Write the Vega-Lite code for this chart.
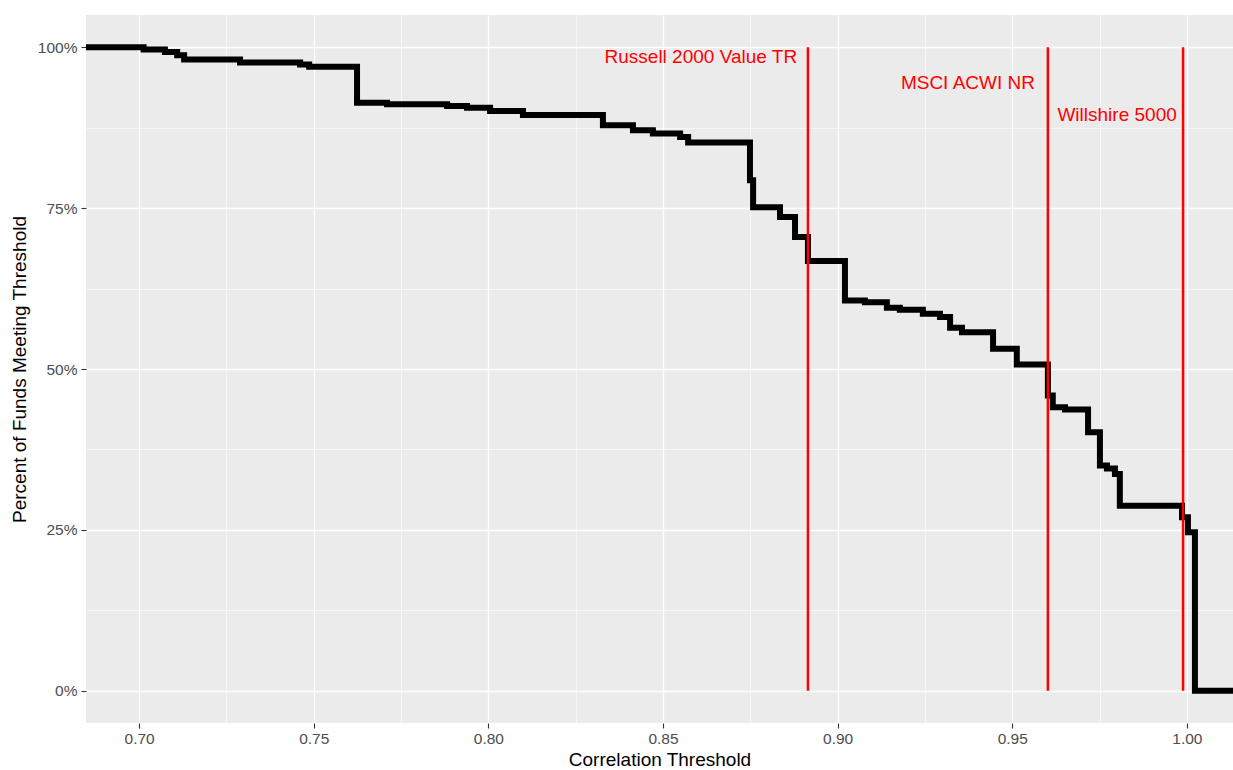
{
  "$schema": "https://vega.github.io/schema/vega-lite/v6.json",
  "width": 1147,
  "height": 708,
  "autosize": "none",
  "padding": {"left": 86, "top": 15, "right": 0, "bottom": 47},
  "background": "white",
  "config": {
    "view": {"fill": "#EBEBEB", "stroke": null},
    "font": "Liberation Sans",
    "axis": {
      "domain": false,
      "gridColor": "white",
      "tickColor": "#333333",
      "tickSize": 5,
      "tickWidth": 1.1,
      "labelColor": "#4D4D4D",
      "labelFont": "Liberation Sans",
      "labelFontSize": 15.5,
      "titleFont": "Liberation Sans",
      "titleFontSize": 19,
      "titleFontWeight": "normal",
      "titleColor": "black"
    }
  },
  "resolve": {"axis": {"x": "independent", "y": "independent"}},
  "datasets": {
    "curve": [
      {"threshold": 0.68, "pct": 1.0},
      {"threshold": 0.7013, "pct": 0.9964},
      {"threshold": 0.7074, "pct": 0.9927},
      {"threshold": 0.7109, "pct": 0.9876},
      {"threshold": 0.7129, "pct": 0.9809},
      {"threshold": 0.7289, "pct": 0.9762},
      {"threshold": 0.7461, "pct": 0.9731},
      {"threshold": 0.7487, "pct": 0.9697},
      {"threshold": 0.7624, "pct": 0.9137},
      {"threshold": 0.771, "pct": 0.9114},
      {"threshold": 0.7882, "pct": 0.9087},
      {"threshold": 0.7939, "pct": 0.9059},
      {"threshold": 0.8005, "pct": 0.9009},
      {"threshold": 0.8099, "pct": 0.8945},
      {"threshold": 0.8328, "pct": 0.8787},
      {"threshold": 0.8414, "pct": 0.8709},
      {"threshold": 0.8471, "pct": 0.8658},
      {"threshold": 0.8549, "pct": 0.8605},
      {"threshold": 0.8572, "pct": 0.8518},
      {"threshold": 0.8749, "pct": 0.7932},
      {"threshold": 0.8758, "pct": 0.7512},
      {"threshold": 0.8835, "pct": 0.7361},
      {"threshold": 0.8878, "pct": 0.705},
      {"threshold": 0.8915, "pct": 0.6677},
      {"threshold": 0.9021, "pct": 0.6065},
      {"threshold": 0.9078, "pct": 0.6039},
      {"threshold": 0.9141, "pct": 0.5952},
      {"threshold": 0.9178, "pct": 0.5921},
      {"threshold": 0.9244, "pct": 0.5858},
      {"threshold": 0.9293, "pct": 0.5806},
      {"threshold": 0.9322, "pct": 0.5641},
      {"threshold": 0.9356, "pct": 0.5572},
      {"threshold": 0.9445, "pct": 0.5314},
      {"threshold": 0.9513, "pct": 0.507},
      {"threshold": 0.9602, "pct": 0.4588},
      {"threshold": 0.9616, "pct": 0.4406},
      {"threshold": 0.9651, "pct": 0.437},
      {"threshold": 0.9717, "pct": 0.4017},
      {"threshold": 0.9751, "pct": 0.3499},
      {"threshold": 0.9771, "pct": 0.3453},
      {"threshold": 0.9794, "pct": 0.337},
      {"threshold": 0.9808, "pct": 0.2877},
      {"threshold": 0.9986, "pct": 0.2695},
      {"threshold": 1.0003, "pct": 0.2462},
      {"threshold": 1.0023, "pct": 0.0},
      {"threshold": 1.02, "pct": 0.0}
    ],
    "benchmarks": [
      {"name": "Russell 2000 Value TR", "corr": 0.8915, "labelX": 0.8884, "labelY": 0.985},
      {"name": "MSCI ACWI NR", "corr": 0.9602, "labelX": 0.9565, "labelY": 0.945},
      {"name": "Willshire 5000", "corr": 0.9989, "labelX": 0.9971, "labelY": 0.8953}
    ]
  },
  "layer": [
    {
      "data": {"name": "curve"},
      "mark": {"type": "line", "interpolate": "step-after", "color": "black", "strokeWidth": 6, "strokeJoin": "miter", "clip": true},
      "encoding": {
        "x": {
          "field": "threshold",
          "type": "quantitative",
          "scale": {"domain": [0.6848, 1.0132], "nice": false, "zero": false},
          "axis": {
            "title": "Correlation Threshold",
            "orient": "bottom",
            "values": [0.7, 0.725, 0.75, 0.775, 0.8, 0.825, 0.85, 0.875, 0.9, 0.925, 0.95, 0.975, 1.0],
            "labelExpr": "round(datum.value*1000) % 50 == 0 ? format(datum.value, '.2f') : ''",
            "gridWidth": {"condition": {"test": "round(datum.value*1000) % 50 == 0", "value": 1.3}, "value": 0.6},
            "tickOpacity": {"condition": {"test": "round(datum.value*1000) % 50 == 0", "value": 1}, "value": 0},
            "labelPadding": 3,
            "titlePadding": 4
          }
        },
        "y": {
          "field": "pct",
          "type": "quantitative",
          "scale": {"domain": [-0.05, 1.05], "nice": false, "zero": false},
          "axis": {
            "title": "Percent of Funds Meeting Threshold",
            "orient": "left",
            "values": [0, 0.125, 0.25, 0.375, 0.5, 0.625, 0.75, 0.875, 1.0],
            "labelExpr": "round(datum.value*1000) % 250 == 0 ? format(datum.value, '.0%') : ''",
            "gridWidth": {"condition": {"test": "round(datum.value*1000) % 250 == 0", "value": 1.3}, "value": 0.6},
            "tickOpacity": {"condition": {"test": "round(datum.value*1000) % 250 == 0", "value": 1}, "value": 0},
            "labelPadding": 4,
            "titlePadding": 8
          }
        }
      }
    },
    {
      "data": {"name": "benchmarks"},
      "mark": {"type": "rule", "color": "#FF0000", "strokeWidth": 2.5},
      "encoding": {
        "x": {"field": "corr", "type": "quantitative", "axis": null},
        "y": {"datum": 0, "type": "quantitative", "axis": null},
        "y2": {"datum": 1}
      }
    },
    {
      "data": {"name": "benchmarks"},
      "mark": {"type": "text", "color": "#FF0000", "align": "right", "baseline": "middle", "fontSize": 19, "font": "Liberation Sans"},
      "encoding": {
        "x": {"field": "labelX", "type": "quantitative", "axis": null},
        "y": {"field": "labelY", "type": "quantitative", "axis": null},
        "text": {"field": "name"}
      }
    }
  ]
}
